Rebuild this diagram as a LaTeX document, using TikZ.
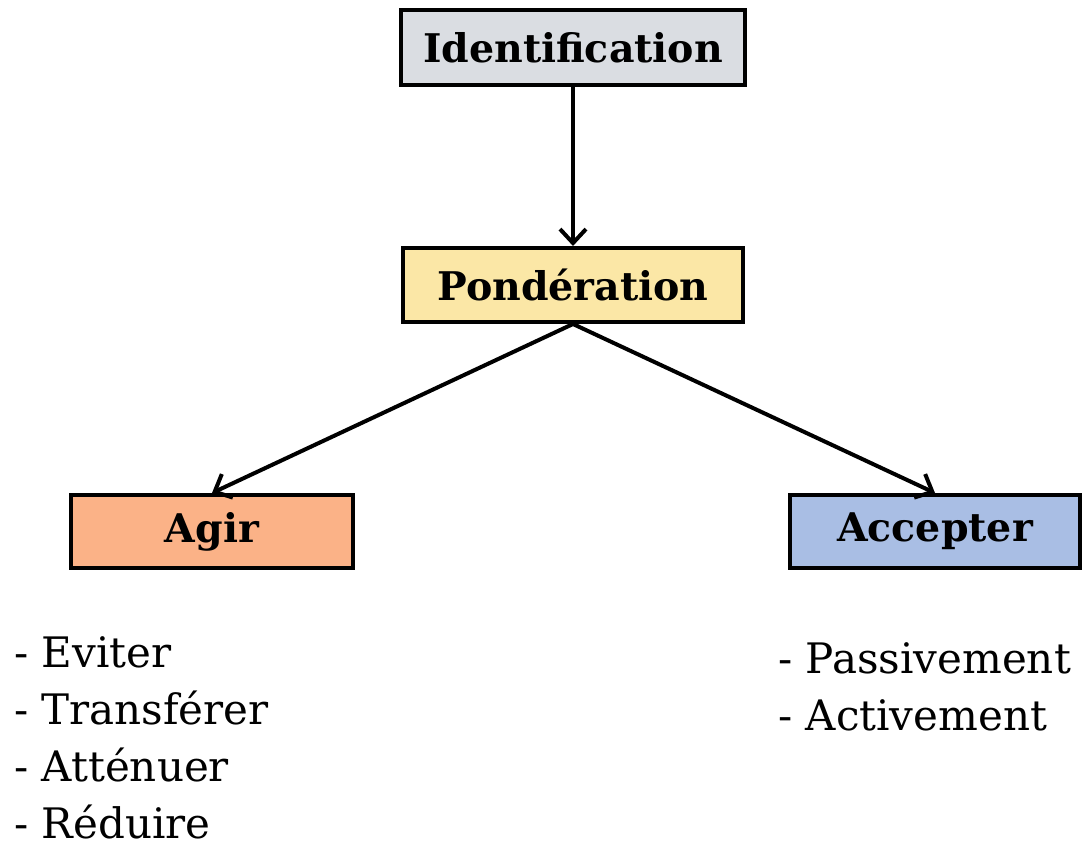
\documentclass[tikz,border=0pt]{standalone}
\usepackage{fontspec}
\setmainfont{DejaVu Serif}
\usetikzlibrary{arrows.meta}
\definecolor{idfill}{HTML}{DADDE2}
\definecolor{pondfill}{HTML}{FBE7A6}
\definecolor{agirfill}{HTML}{FBB287}
\definecolor{accfill}{HTML}{A9BEE4}
\begin{document}
\begin{tikzpicture}[x=1pt,y=-1pt,
  box/.style={draw=black, line width=4pt, inner sep=0pt, font=\bfseries\fontsize{39.5}{46}\selectfont},
  conn/.style={line width=4pt, -{Straight Barb[length=14pt,width=26pt,line width=4pt]}},
  listtxt/.style={align=left, inner sep=0pt, font=\fontsize{42}{57}\selectfont}]
\useasboundingbox (0,0) rectangle (1083,846);
\node[box, fill=idfill, minimum width=344pt, minimum height=75pt] (id) at (573,47.5) {Identification};
\node[box, fill=pondfill, minimum width=340pt, minimum height=74pt] (pond) at (573,285) {Pondération};
\node[box, fill=agirfill, minimum width=282pt, minimum height=73pt] (agir) at (212,531.5) {Agir};
\node[box, fill=accfill, minimum width=290pt, minimum height=73pt] (acc) at (935,531.5) {Accepter};
\draw[conn] (id.south) -- (pond.north);
\draw[conn] (pond.south) -- (agir.north);
\draw[conn] (pond.south) -- (acc.north);
\node[listtxt, anchor=base west] (l1) at (14,838) {- Eviter\\- Transférer\\- Atténuer\\- Réduire};
\node[listtxt, anchor=base west] (l2) at (778,730) {- Passivement\\- Activement};
\end{tikzpicture}
\end{document}
